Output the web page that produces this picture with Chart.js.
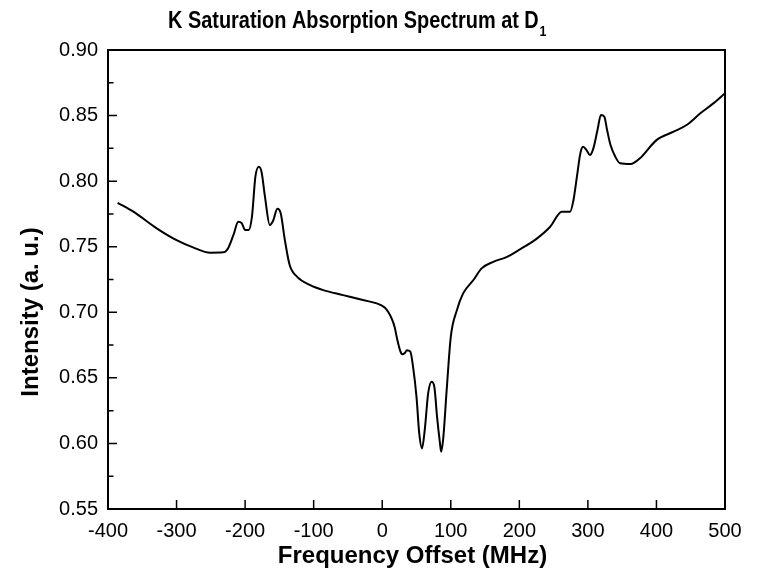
<!DOCTYPE html>
<html>
<head>
<meta charset="utf-8">
<script src="https://cdn.jsdelivr.net/npm/chart.js@4"></script>
<style>
  body { margin: 0; background: #fff; }
  #wrap { width: 757px; height: 570px; }
</style>
</head>
<body>
<div id="wrap"><canvas id="spectrum" width="757" height="570"></canvas></div>
<script>
// frequency offset (MHz) and intensity (a. u.)
const freq = [-386, -363, -329, -300, -276, -251, -232, -225, -217, -210, -205, -200, -195, -190, -185, -180, -176, -171, -164, -159, -153, -148, -142, -135, -124, -105, -86, -57, -28, -8, -1, 4, 9, 14, 18, 22, 26, 29, 33, 36, 41, 45, 50, 54, 58, 62, 67, 72, 76, 80, 84, 86, 89, 94, 100, 109, 118, 133, 145, 162, 182, 201, 225, 245, 262, 274, 279, 284, 289, 293, 298, 303, 308, 314, 319, 324, 328, 333, 340, 347, 362, 376, 400, 425, 444, 464, 483, 500];
const intensity = [0.7835, 0.7767, 0.764, 0.755, 0.7495, 0.7454, 0.7457, 0.7487, 0.759, 0.769, 0.768, 0.7627, 0.7627, 0.773, 0.8034, 0.811, 0.807, 0.788, 0.7665, 0.770, 0.779, 0.7754, 0.755, 0.736, 0.727, 0.7207, 0.7169, 0.7131, 0.7093, 0.7068, 0.7052, 0.7035, 0.700, 0.695, 0.689, 0.679, 0.671, 0.668, 0.669, 0.671, 0.670, 0.6584, 0.6355, 0.6076, 0.5962, 0.6101, 0.6381, 0.647, 0.6432, 0.6203, 0.6012, 0.5936, 0.6038, 0.6406, 0.6813, 0.7017, 0.7144, 0.7246, 0.7335, 0.7385, 0.7423, 0.748, 0.756, 0.7652, 0.7767, 0.7767, 0.7856, 0.8034, 0.8212, 0.8262, 0.8237, 0.8199, 0.825, 0.839, 0.8504, 0.8491, 0.839, 0.8275, 0.8186, 0.8136, 0.813, 0.8174, 0.8313, 0.8377, 0.8428, 0.8517, 0.8593, 0.867];

const xTicks = [-400, -300, -200, -100, 0, 100, 200, 300, 400, 500];
const yTicks = [0.55, 0.60, 0.65, 0.70, 0.75, 0.80, 0.85, 0.90];
const yMinor = [0.575, 0.625, 0.675, 0.725, 0.775, 0.825, 0.875];

const FONT = '"Liberation Sans", Arial, sans-serif';

// box frame, inward ticks and the titles
const framePlugin = {
    id: 'frame',
    afterDraw(chart) {
        const ctx = chart.ctx;
        const a = chart.chartArea;
        const xs = chart.scales.x, ys = chart.scales.y;
        ctx.save();
        ctx.strokeStyle = '#000';
        ctx.lineWidth = 2;
        ctx.strokeRect(a.left, a.top, a.right - a.left, a.bottom - a.top);

        ctx.lineWidth = 1.5;
        ctx.beginPath();
        xTicks.forEach(v => {
            const px = xs.getPixelForValue(v);
            ctx.moveTo(px, a.bottom);
            ctx.lineTo(px, a.bottom - 9);
        });
        yTicks.forEach(v => {
            const py = ys.getPixelForValue(v);
            ctx.moveTo(a.left, py);
            ctx.lineTo(a.left + 9, py);
        });
        yMinor.forEach(v => {
            const py = ys.getPixelForValue(v);
            ctx.moveTo(a.left, py);
            ctx.lineTo(a.left + 5.5, py);
        });
        ctx.stroke();

        ctx.fillStyle = '#000';
        // main title (condensed bold, with subscript)
        ctx.save();
        ctx.translate(168, 28);
        ctx.scale(0.83, 1);
        ctx.font = 'bold 24px ' + FONT;
        ctx.textBaseline = 'alphabetic';
        ctx.textAlign = 'left';
        const main = 'K Saturation Absorption Spectrum at D';
        ctx.fillText(main, 0, 0);
        const w = ctx.measureText(main).width;
        ctx.font = 'bold 15px ' + FONT;
        ctx.fillText('1', w + 1, 8);
        ctx.restore();

        // x axis title
        ctx.font = 'bold 24px ' + FONT;
        ctx.textAlign = 'center';
        ctx.textBaseline = 'alphabetic';
        ctx.fillText('Frequency Offset (MHz)', (a.left + a.right) / 2 - 4, 563);

        // y axis title
        ctx.save();
        ctx.translate(38, 312);
        ctx.rotate(-Math.PI / 2);
        ctx.fillText('Intensity (a. u.)', 0, 0);
        ctx.restore();
        ctx.restore();
    }
};

new Chart(document.getElementById('spectrum').getContext('2d'), {
    type: 'line',
    data: {
        datasets: [{
            label: 'K D1',
            data: freq.map((f, i) => ({ x: f, y: intensity[i] })),
            borderColor: '#000',
            borderWidth: 2,
            pointRadius: 0,
            fill: false,
            cubicInterpolationMode: 'monotone'
        }]
    },
    options: {
        responsive: false,
        animation: false,
        layout: { padding: { left: 0, right: 32, top: 50, bottom: 0 } },
        plugins: {
            legend: { display: false },
            title: { display: false },
            tooltip: { enabled: false }
        },
        scales: {
            x: {
                type: 'linear',
                min: -400,
                max: 500,
                afterFit: s => { s.height = 61; },
                afterBuildTicks: s => { s.ticks = xTicks.map(v => ({ value: v })); },
                grid: { display: false, drawTicks: false },
                border: { display: false },
                ticks: {
                    color: '#000',
                    padding: 10,
                    font: { family: FONT, size: 20 },
                    callback: v => String(v)
                }
            },
            y: {
                type: 'linear',
                min: 0.55,
                max: 0.90,
                afterFit: s => { s.width = 108; },
                afterBuildTicks: s => { s.ticks = yTicks.map(v => ({ value: v })); },
                grid: { display: false, drawTicks: false },
                border: { display: false },
                ticks: {
                    color: '#000',
                    padding: 10,
                    font: { family: FONT, size: 20 },
                    callback: v => v.toFixed(2)
                }
            }
        }
    },
    plugins: [framePlugin]
});
</script>
</body>
</html>
